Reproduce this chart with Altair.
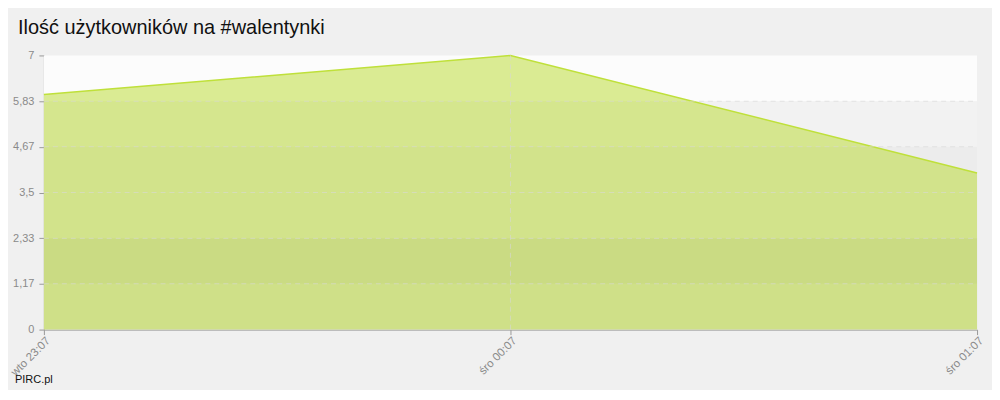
import altair as alt
import pandas as pd

# ---- data ----
times = ["wto 23:07", "śro 00:07", "śro 01:07"]
users = [6, 7, 4]
y_ticks = [0, 1.17, 2.33, 3.5, 4.67, 5.83, 7]
band_colors = ["#e5e5e5", "#d9d9d9", "#ebebeb", "#ececec", "#f2f2f2", "#fcfcfc"]

title_text = "Ilość użytkowników na #walentynki"
credit_text = "PIRC.pl"

W, H = 936, 275

df = pd.DataFrame({"t": times, "v": users})
bands = pd.DataFrame({
    "lo": y_ticks[:-1],
    "hi": y_ticks[1:],
    "c": band_colors,
})
grid_y = pd.DataFrame({"y": y_ticks[1:-1]})
grid_x = pd.DataFrame({"t": [times[1]]})

yscale = alt.Scale(domain=[0, 7], nice=False, zero=True)
xscale = alt.Scale(type="point", padding=0)

yaxis = alt.Axis(values=y_ticks, domainColor="#999999", tickColor="#999999",
                 tickSize=5, labelColor="#8a8a8a", labelFontSize=11,
                 labelFont="Liberation Sans", labelPadding=5, grid=False,
                 labelExpr="replace(format(datum.value, '.2~f'), '.', ',')")

band_layer = alt.Chart(bands).mark_rect().encode(
    x=alt.value(0),
    x2=alt.value("width"),
    y=alt.Y("lo:Q", scale=yscale, title=None, axis=yaxis),
    y2="hi:Q",
    color=alt.Color("c:N", scale=None),
)

area = alt.Chart(df).mark_area(color="#bedc3c", opacity=0.55).encode(
    x=alt.X("t:N", sort=times, scale=xscale, title=None,
            axis=alt.Axis(labelAngle=-45, domainColor="#999999", tickColor="#999999",
                          tickSize=5, labelColor="#8a8a8a", labelFontSize=11.5,
                          labelFont="Liberation Sans", labelPadding=0, grid=False)),
    y=alt.Y("v:Q", scale=yscale, title=None, axis=yaxis),
)

line = alt.Chart(df).mark_line(color="#bfe03a", strokeWidth=1.5).encode(
    x=alt.X("t:N", sort=times, scale=xscale),
    y=alt.Y("v:Q", scale=yscale),
)

gy = alt.Chart(grid_y).mark_rule(color="#d6d6d6", strokeDash=[5, 4], opacity=0.6).encode(
    x=alt.value(0),
    x2=alt.value("width"),
    y=alt.Y("y:Q", scale=yscale),
)

gx = alt.Chart(grid_x).mark_rule(color="#d6d6d6", strokeDash=[5, 4], opacity=0.6).encode(
    x=alt.X("t:N", sort=times, scale=xscale),
    y=alt.value(0),
    y2=alt.value("height"),
)

credit = alt.Chart(pd.DataFrame({"s": [credit_text]})).mark_text(
    align="left", baseline="alphabetic", font="Liberation Sans", fontSize=11, color="#111111"
).encode(
    text="s:N",
    x=alt.value(-29),
    y=alt.value(H + 54),
)

chart = alt.layer(band_layer, area, line, gy, gx, credit).properties(
    width=W,
    height=H,
    title=alt.TitleParams(title_text, anchor="start", frame="group", dx=-26, offset=12,
                          font="Liberation Sans", fontSize=20, fontWeight="normal",
                          color="#111111"),
    autosize=alt.AutoSizeParams(type="none"),
    padding={"left": 36, "top": 47, "right": 15, "bottom": 60},
    background="#f0f0f0",
).configure_view(stroke=None)

chart.save("out.html", embed_options={"renderer": "svg", "actions": False})
